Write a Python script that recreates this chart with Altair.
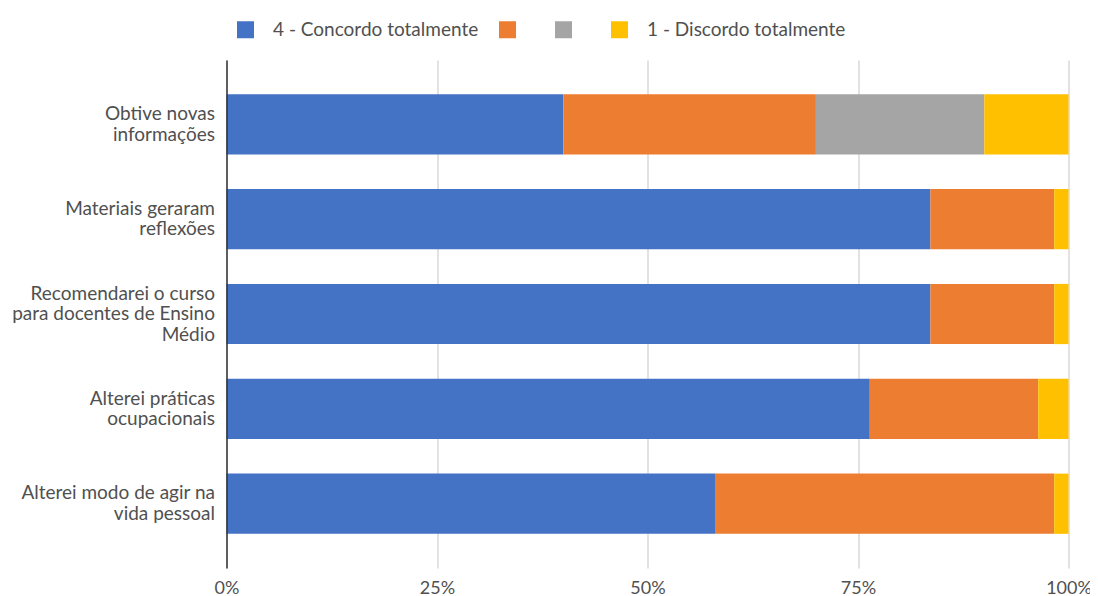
import altair as alt
import pandas as pd

FONT = "Lato"
TEXT_COLOR = "#505050"

categories = [
    "Obtive novas|informações",
    "Materiais geraram|reflexões",
    "Recomendarei o curso|para docentes de Ensino|Médio",
    "Alterei práticas|ocupacionais",
    "Alterei modo de agir na|vida pessoal",
]
levels = ["4", "3", "2", "1"]
level_names = ["4 - Concordo totalmente", "", "", "1 - Discordo totalmente"]
colors = ["#4472C4", "#ED7D31", "#A5A5A5", "#FFC000"]

v4 = [40.0, 83.6, 83.6, 76.4, 58.1]
v3 = [30.0, 14.7, 14.7, 20.0, 40.2]
v2 = [20.0, 0.0, 0.0, 0.0, 0.0]
v1 = [10.0, 1.7, 1.7, 3.6, 1.7]

x_ticks = [0, 0.25, 0.5, 0.75, 1.0]

rows = []
series = [v4, v3, v2, v1]
for i, c in enumerate(categories):
    for j, lv in enumerate(levels):
        rows.append({"cat": c, "level": lv, "ord": j, "value": series[j][i] / 100})
df = pd.DataFrame(rows)

legend_expr = " : ".join(
    f"datum.label == '{lv}' ? '{nm}'" for lv, nm in zip(levels, level_names)
) + " : ''"

LINE_H = 20.5
y_label_offset = {
    "condition": {"test": "length(split(datum.label, '|')) == 3", "value": -LINE_H},
    "value": -LINE_H / 2,
}

chart = alt.Chart(df).mark_bar().encode(
    y=alt.Y(
        "cat:N",
        sort=categories,
        title=None,
        scale=alt.Scale(paddingInner=0.365, paddingOuter=0.36),
        axis=alt.Axis(
            labelExpr="split(datum.label, '|')",
            labelFont=FONT,
            labelFontSize=19,
            labelColor=TEXT_COLOR,
            labelPadding=12,
            labelLineHeight=LINE_H,
            labelLimit=400,
            labelOffset=y_label_offset,
            ticks=False,
            grid=False,
            domainColor="#333333",
            domainWidth=1.5,
            zindex=1,
        ),
    ),
    x=alt.X(
        "value:Q",
        stack="zero",
        title=None,
        scale=alt.Scale(domain=[0, 1], nice=False),
        axis=alt.Axis(
            values=x_ticks,
            format=".0%",
            grid=True,
            gridColor="#D9D9D9",
            gridWidth=1.5,
            domain=False,
            ticks=False,
            labelFlush=False,
            labelOverlap=False,
            labelPadding=11,
            labelFont=FONT,
            labelFontSize=18,
            labelColor=TEXT_COLOR,
        ),
    ),
    color=alt.Color(
        "level:N",
        scale=alt.Scale(domain=levels, range=colors),
        legend=alt.Legend(
            orient="none",
            legendX=9.5,
            legendY=-40,
            direction="horizontal",
            title=None,
            symbolType="square",
            symbolSize=289,
            symbolStrokeWidth=0,
            labelExpr=legend_expr,
            labelFont=FONT,
            labelFontSize=19,
            labelColor=TEXT_COLOR,
            labelOffset=18,
            labelLimit=500,
            columnPadding=19,
        ),
    ),
    order=alt.Order("ord:Q", sort="ascending"),
).properties(
    width=842,
    height=508,
    padding={"left": 218.5, "top": 52, "right": 21.5, "bottom": 28},
    autosize=alt.AutoSizeParams(type="none"),
).configure_view(stroke=None)

chart.save("out.html", embed_options={"renderer": "svg", "actions": False})
